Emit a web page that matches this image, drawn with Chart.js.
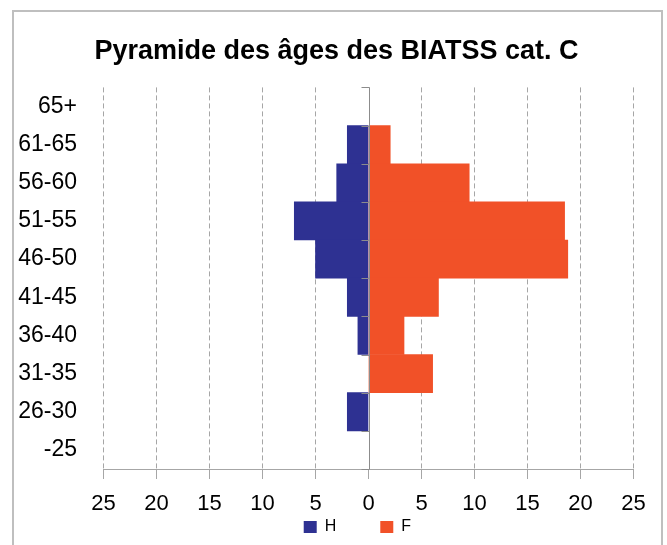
<!DOCTYPE html>
<html lang="fr">
<head>
<meta charset="utf-8">
<title>Pyramide des âges des BIATSS cat. C</title>
<script src="https://cdn.jsdelivr.net/npm/chart.js@4/dist/chart.umd.min.js"></script>
<style>
    html, body { margin: 0; padding: 0; background: #fff; overflow: hidden; }
    #cadre {
        position: absolute; left: 12px; top: 10px;
        width: 647px; height: 560px;
        border: 2px solid #BFBFBF;
    }
    #pyramide { position: absolute; left: 0; top: 0; }
</style>
</head>
<body>
<div id="cadre"></div>
<canvas id="pyramide" width="667" height="545"></canvas>
<script>
// Tranches d'âge (du haut vers le bas)
const tranches = ['65+', '61-65', '56-60', '51-55', '46-50', '41-45', '36-40', '31-35', '26-30', '-25'];

// Effectifs
const hommes = [0, 2, 3, 7, 5, 2, 1, 0, 2, 0];
const femmes = [0, 2.05, 9.5, 18.5, 18.8, 6.6, 3.35, 6.05, 0, 0];

// Graduations de l'axe horizontal
const graduations = [-25, -20, -15, -10, -5, 0, 5, 10, 15, 20, 25];

const couleurH = '#2E3192';
const couleurF = '#F15128';
const gris = '#A6A6A6';

Chart.defaults.font.family = "'Liberation Sans', Arial, sans-serif";
Chart.defaults.color = '#000';

// Axe central (trait plein + petites graduations entre les tranches)
const axeCentral = {
    id: 'axeCentral',
    afterDatasetsDraw(chart) {
        const { ctx, chartArea, scales: { x, y } } = chart;
        const x0 = Math.round(x.getPixelForValue(0)) + 0.5;
        ctx.save();
        ctx.strokeStyle = '#8C8C8C';
        ctx.lineWidth = 1;
        ctx.beginPath();
        ctx.moveTo(x0, chartArea.top);
        ctx.lineTo(x0, chartArea.bottom);
        for (let i = 0; i <= tranches.length; i++) {
            const py = Math.round(y.getPixelForValue(i - 0.5)) + 0.5;
            ctx.moveTo(x0 - 8, py);
            ctx.lineTo(x0, py);
        }
        ctx.stroke();
        ctx.restore();
    }
};

// espaces ajoutés après le texte pour écarter les deux entrées de légende
const espacesLegende = [9, 5];

const ctx = document.getElementById('pyramide').getContext('2d');

new Chart(ctx, {
    type: 'bar',
    data: {
        labels: tranches,
        datasets: [
            {
                label: 'H',
                // les hommes à gauche ; pas de barre quand l'effectif est nul
                data: hommes.map(v => v ? -v : null),
                backgroundColor: couleurH,
                borderWidth: 0,
                barPercentage: 1,
                categoryPercentage: 1
            },
            {
                label: 'F',
                data: femmes.map(v => v ? v : null),
                backgroundColor: couleurF,
                borderWidth: 0,
                barPercentage: 1,
                categoryPercentage: 1
            }
        ]
    },
    options: {
        indexAxis: 'y',
        responsive: false,
        animation: false,
        layout: {
            padding: { top: 35, right: 4, bottom: 0, left: 10 }
        },
        plugins: {
            title: {
                display: true,
                text: 'Pyramide des âges des BIATSS cat. C',
                font: { size: 27, weight: 'bold' },
                color: '#000',
                padding: { top: 0, bottom: 20 }
            },
            legend: {
                display: true,
                position: 'bottom',
                fullSize: false,
                labels: {
                    boxWidth: 13,
                    boxHeight: 12,
                    padding: 4,
                    font: { size: 16 },
                    color: '#000',
                    generateLabels: chart => {
                        const items = Chart.defaults.plugins.legend.labels.generateLabels(chart);
                        items.forEach((it, i) => { it.text = it.text + ' '.repeat(espacesLegende[i]); });
                        return items;
                    }
                }
            },
            tooltip: { enabled: false }
        },
        scales: {
            x: {
                stacked: true,
                min: -25,
                max: 25,
                afterBuildTicks: scale => {
                    scale.ticks = graduations.map(v => ({ value: v }));
                },
                afterFit: scale => {
                    scale.height = 46;
                    scale.paddingRight = 33.5;
                },
                ticks: {
                    font: { size: 22 },
                    color: '#000',
                    padding: 12,
                    maxRotation: 0,
                    callback: value => Math.abs(value)
                },
                grid: {
                    color: c => (c.tick && c.tick.value === 0) ? 'rgba(0,0,0,0)' : gris,
                    tickColor: gris,
                    tickLength: 10,
                    lineWidth: 1
                },
                border: {
                    display: true,
                    color: gris,
                    width: 1,
                    dash: [5, 3]
                }
            },
            y: {
                stacked: true,
                afterFit: scale => { scale.width = 93.5; },
                ticks: {
                    font: { size: 23 },
                    color: '#000',
                    padding: 26.5
                },
                grid: { display: false, drawTicks: false },
                border: { display: false }
            }
        }
    },
    plugins: [axeCentral]
});
</script>
</body>
</html>
